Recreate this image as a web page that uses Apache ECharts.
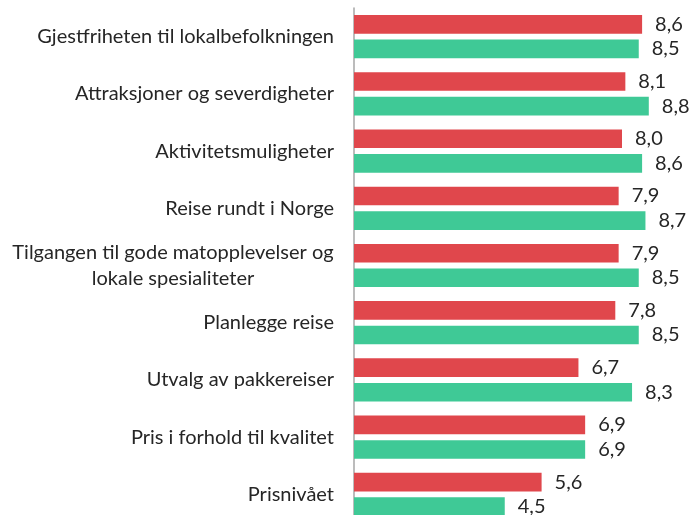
<!DOCTYPE html>
<html><head><meta charset="utf-8">
<script src="https://cdn.jsdelivr.net/npm/echarts@6/dist/echarts.min.js"></script>
<style>html,body{margin:0;padding:0;background:#fff}#c{width:693px;height:515px}</style>
</head><body><div id="c"></div>
<script>
const categories = [
  "Gjestfriheten til lokalbefolkningen",
  "Attraksjoner og severdigheter",
  "Aktivitetsmuligheter",
  "Reise rundt i Norge",
  "Tilgangen til gode matopplevelser og\nlokale spesialiteter",
  "Planlegge reise",
  "Utvalg av pakkereiser",
  "Pris i forhold til kvalitet",
  "Prisnivået"
];
const redValues = [8.6, 8.1, 8.0, 7.9, 7.9, 7.8, 6.7, 6.9, 5.6];
const greenValues = [8.5, 8.8, 8.6, 8.7, 8.5, 8.5, 8.3, 6.9, 4.5];

const FONT = 'Lato';
const chart = echarts.init(document.getElementById('c'));
const lbl = {
  show: true, position: 'right', distance: 13,
  fontFamily: FONT, fontSize: 20, color: '#262626',
  formatter: p => p.value.toFixed(1).replace('.', ',')
};
chart.setOption({
  animation: false,
  grid: { left: 354, right: 4, top: 8, bottom: -8, containLabel: false, outerBoundsMode: 'none' },
  xAxis: { type: 'value', min: 0, max: 10, show: false },
  yAxis: {
    type: 'category', data: categories, inverse: true,
    axisLine: { show: true, lineStyle: { color: '#a6a6a6', width: 1.5 } },
    axisTick: { show: false },
    axisLabel: {
      margin: 20, fontFamily: FONT, fontSize: 20, color: '#262626', lineHeight: 26,
      formatter: v => v.indexOf('\n') >= 0 ? v.split('\n').map(s => '{c|' + s + '}').join('\n') : v,
      rich: { c: { width: 322, align: 'center', fontFamily: FONT, fontSize: 20, color: '#262626', lineHeight: 26 } }
    }
  },
  series: [
    { type: 'bar', data: redValues, itemStyle: { color: '#E0474C' }, barGap: '32%', barCategoryGap: '24.5%', label: lbl },
    { type: 'bar', data: greenValues, itemStyle: { color: '#3FC996' }, barGap: '32%', barCategoryGap: '24.5%', label: lbl }
  ]
});
</script></body></html>
